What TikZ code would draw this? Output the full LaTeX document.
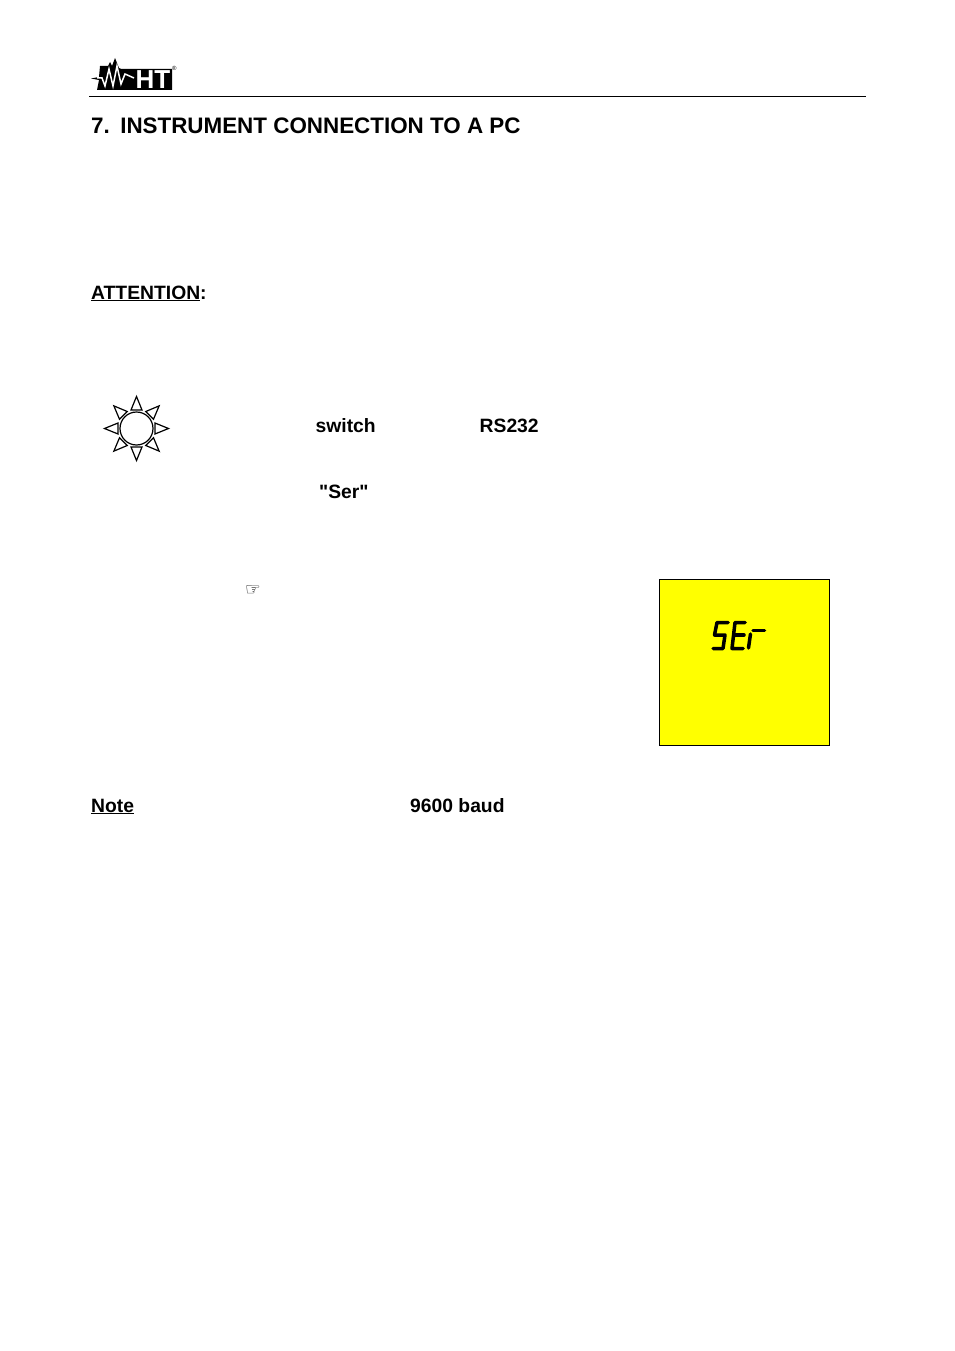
\documentclass[tikz,border=0pt]{standalone}
\usepackage{fontspec}
\setmainfont{Liberation Sans}
\newfontfamily\plainfont{Liberation Sans}
\definecolor{lcdyellow}{RGB}{255,255,0}
\tikzset{
    heading/.style={anchor=base west, inner sep=0pt, font=\fontsize{22.4}{24}\selectfont\bfseries},
    bodytext/.style={anchor=base west, inner sep=0pt, font=\fontsize{19.3}{22}\selectfont\bfseries},
    ray/.style={draw=black, line width=1.2pt, fill=white, line join=miter},
    lcdseg/.style={line width=3.5pt, line cap=round, line join=round, black},
}
\begin{document}
\begin{tikzpicture}[x=1pt,y=-1pt]
\useasboundingbox (0,0) rectangle (954,1351);
\fill[white] (0,0) rectangle (954,1351);

% logo
\fill[black] (118,69)--(172,69)--(172,90)--(97,90)--(99,80)--(91,78.5)--(99,77)--(100,66)--(108,66)--(110,62)--(112,66)--(115,58)--(119,68)--(131,73)--(118,69)--cycle;
\draw[white, line width=1.5pt] (97,78)--(102,78)--(105,86)--(109,69)--(113,86)--(117,66)--(121,84)--(125,74)--(134,78);
\node[anchor=base west, inner sep=0pt, white, font=\fontsize{26}{26}\selectfont\bfseries] (logoHT) at (135.5,88.5) {HT};
\node[anchor=base west, inner sep=0pt, font=\fontsize{6}{6}\selectfont] (logoR) at (172,71) {®};
\draw[line width=0.8pt] (89,96.5)--(866,96.5);

\node[heading] (title) at (91,134) {7.\hspace{10.4pt}INSTRUMENT CONNECTION TO A PC};
\node[bodytext] (attn) at (91,299) {\underline{ATTENTION}:};

% sun
\foreach \a in {0,45,...,315}
{
    \draw[ray, rotate around={\a:(136.5,428.5)}] (136.5,396.5)--(142,410)--(131,410)--cycle;
}
\draw[line width=1.2pt] (136.5,428.5) circle (16.5);

\node[bodytext] (switch) at (315.5,432) {switch};
\node[bodytext] (rs) at (479.5,432) {RS232};
\node[bodytext] (ser) at (319,498) {\plainfont\bfseries "Ser"};
\node[anchor=center, inner sep=0pt, font=\fontsize{17.5}{18}\selectfont] (hand) at (253,591) {\fontspec{DejaVu Sans}☞};

% display
\node[draw=black, fill=lcdyellow, line width=0.7pt, minimum width=170pt, minimum height=166pt, inner sep=0pt] (lcd) at (744.5,662.5) {};
\draw[lcdseg] (728,622.5)--(717,622.5)--(714.5,635)--(725,635)--(723,648.5)--(713,648.5);
\draw[lcdseg] (745,622.5)--(735,622.5)--(732,648.5)--(743,648.5);
\draw[lcdseg] (734,635)--(744,635);
\draw[lcdseg] (750.5,634)--(748.5,648);
\draw[lcdseg] (753,630.5)--(764.5,630.5);

\node[bodytext] (note) at (91,812) {\underline{Note}};
\node[bodytext] (baud) at (410,812) {9600 baud};
\end{tikzpicture}
\end{document}
